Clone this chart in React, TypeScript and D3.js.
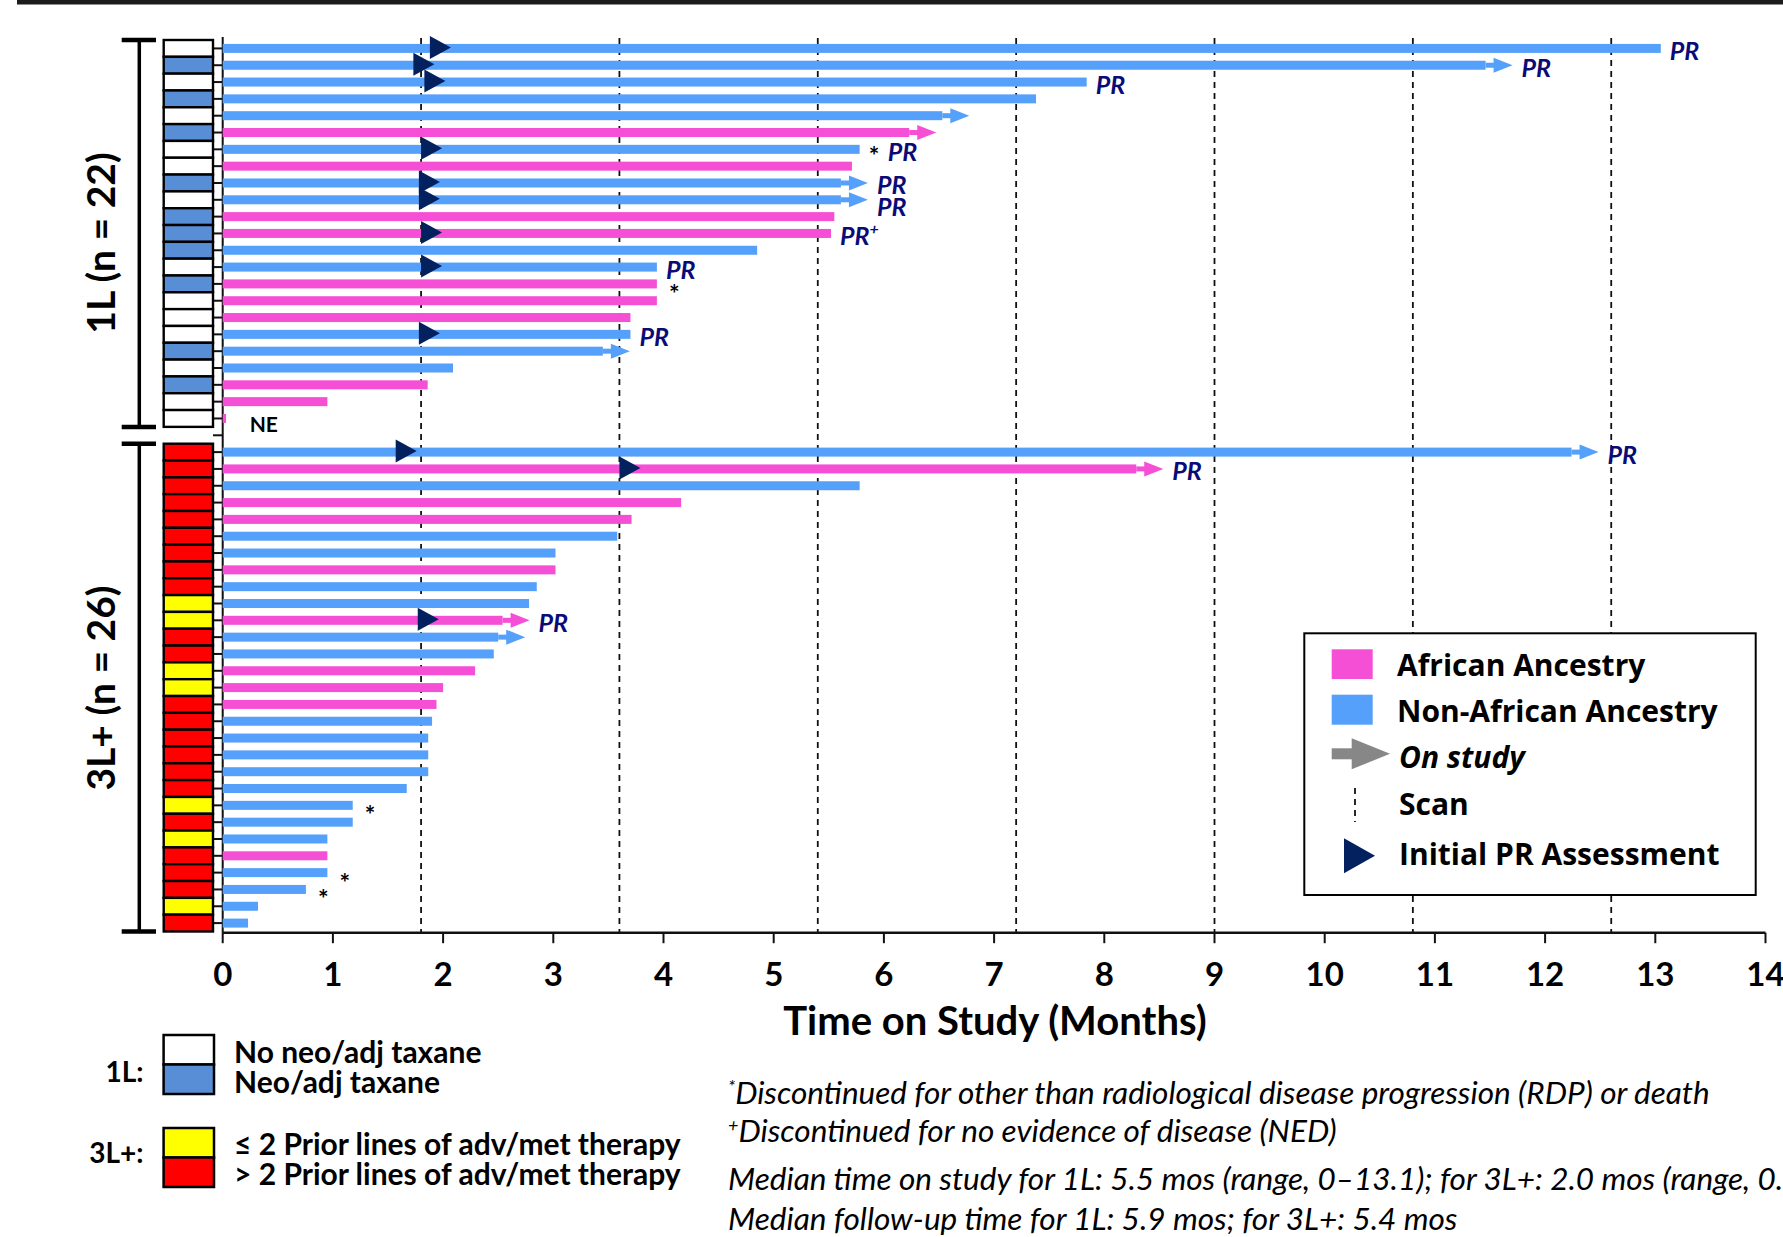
import React, { useRef, useEffect } from 'react';
import * as d3 from 'd3';

// 1L cohort, top to bottom
const firstLineMonths = [13.05, 11.46, 7.84, 7.38, 6.53, 6.23, 5.78, 5.71, 5.61, 5.61, 5.55, 5.52, 4.85, 3.94, 3.94, 3.94, 3.7, 3.7, 3.45, 2.09, 1.86, 0.95, 0.03];
const firstLineAncestry = ['N', 'N', 'N', 'N', 'N', 'A', 'N', 'A', 'N', 'N', 'A', 'A', 'N', 'N', 'A', 'A', 'A', 'N', 'N', 'N', 'A', 'A', 'A'];
const firstLineOnStudy = [0, 1, 0, 0, 1, 1, 0, 0, 1, 1, 0, 0, 0, 0, 0, 0, 0, 0, 1, 0, 0, 0, 0];
const firstLinePrAt = [1.88, 1.73, 1.83, null, null, null, 1.8, null, 1.78, 1.78, null, 1.8, null, 1.8, null, null, null, 1.78, null, null, null, null, null];
const firstLineNotes = ['PR', 'PR', 'PR', '', '', '', '* PR', '', 'PR', 'PR', '', 'PR+', '', 'PR', '*', '', '', 'PR', '', '', '', '', 'NE'];
const firstLineTaxane = [0, 1, 0, 1, 0, 1, 0, 0, 1, 0, 1, 1, 1, 0, 1, 0, 0, 0, 1, 0, 1, 0, 0];

// 3L+ cohort, top to bottom
const thirdLineMonths = [12.24, 8.29, 5.78, 4.16, 3.71, 3.58, 3.02, 3.02, 2.85, 2.78, 2.54, 2.5, 2.46, 2.29, 2.0, 1.94, 1.9, 1.865, 1.865, 1.865, 1.67, 1.18, 1.18, 0.95, 0.95, 0.95, 0.755, 0.32, 0.23];
const thirdLineAncestry = ['N', 'A', 'N', 'A', 'A', 'N', 'N', 'A', 'N', 'N', 'A', 'N', 'N', 'A', 'A', 'A', 'N', 'N', 'N', 'N', 'N', 'N', 'N', 'N', 'A', 'N', 'N', 'N', 'N'];
const thirdLineOnStudy = [1, 1, 0, 0, 0, 0, 0, 0, 0, 0, 1, 1, 0, 0, 0, 0, 0, 0, 0, 0, 0, 0, 0, 0, 0, 0, 0, 0, 0];
const thirdLinePrAt = [1.57, 3.6, null, null, null, null, null, null, null, null, 1.77, null, null, null, null, null, null, null, null, null, null, null, null, null, null, null, null, null, null];
const thirdLineNotes = ['PR', 'PR', '', '', '', '', '', '', '', '', 'PR', '', '', '', '', '', '', '', '', '', '', '*', '', '', '', '*', '*', '', ''];
const thirdLineFewPrior = [0, 0, 0, 0, 0, 0, 0, 0, 0, 1, 1, 0, 0, 1, 1, 0, 0, 0, 0, 0, 0, 1, 0, 1, 0, 0, 0, 1, 0];

const scanMonths = [1.8, 3.6, 5.4, 7.2, 9.0, 10.8, 12.6];
const xTicks = d3.range(0, 15);

const W = 1783;
const H = 1237;
const PINK = '#f54fd6';
const BLUE = '#55a0fb';
const STRIP_BLUE = '#588ed6';
const NAVY = '#03215f';
const PR_BLUE = '#0b0b78';
const SANS = 'Lato, "Open Sans", sans-serif';
const LEG = '"Open Sans", Lato, sans-serif';

const App = () => {
  const svgRef = useRef<SVGSVGElement>(null);

  useEffect(() => {
    const svg = d3.select(svgRef.current);
    svg.selectAll('*').remove();

    const nFirst = firstLineMonths.length;
    const nSlots = nFirst + 1 + thirdLineMonths.length;

    const rows = [
      ...firstLineMonths.map((m, i) => ({
        slot: i, months: m, anc: firstLineAncestry[i], on: firstLineOnStudy[i],
        pr: firstLinePrAt[i], note: firstLineNotes[i], strip: firstLineTaxane[i] ? STRIP_BLUE : '#ffffff',
      })),
      ...thirdLineMonths.map((m, i) => ({
        slot: nFirst + 1 + i, months: m, anc: thirdLineAncestry[i], on: thirdLineOnStudy[i],
        pr: thirdLinePrAt[i], note: thirdLineNotes[i], strip: thirdLineFewPrior[i] ? '#ffff00' : '#ff0000',
      })),
    ];

    const x = d3.scaleLinear().domain([0, 14]).range([222.7, 1765.5]);
    const y = d3.scaleBand<number>().domain(d3.range(nSlots)).range([40, 931.5]);
    const bw = y.bandwidth();
    const cy = (s: number) => (y(s) as number) + bw / 2;
    const axisY = 932.7;

    // top rule
    svg.append('rect').attr('x', 17).attr('y', 0).attr('width', W - 17).attr('height', 4.5).attr('fill', '#1c1c1c');

    // scan lines
    svg.append('g').selectAll('line').data(scanMonths).enter().append('line')
      .attr('x1', d => x(d)).attr('x2', d => x(d))
      .attr('y1', 38).attr('y2', axisY)
      .attr('stroke', '#111').attr('stroke-width', 1.8).attr('stroke-dasharray', '6,5');

    // y axis line + ticks
    svg.append('line').attr('x1', x(0)).attr('x2', x(0)).attr('y1', 37).attr('y2', axisY)
      .attr('stroke', '#111').attr('stroke-width', 2);
    svg.append('g').selectAll('line').data(d3.range(nSlots)).enter().append('line')
      .attr('x1', 213).attr('x2', x(0)).attr('y1', d => cy(d)).attr('y2', d => cy(d))
      .attr('stroke', '#111').attr('stroke-width', 2);

    // x axis
    svg.append('line').attr('x1', x(0)).attr('x2', x(14)).attr('y1', axisY).attr('y2', axisY)
      .attr('stroke', '#111').attr('stroke-width', 2.5);
    const xt = svg.append('g').selectAll('g').data(xTicks).enter().append('g');
    xt.append('line').attr('x1', d => x(d)).attr('x2', d => x(d)).attr('y1', axisY).attr('y2', axisY + 10.5)
      .attr('stroke', '#111').attr('stroke-width', 2);
    xt.append('text').attr('x', d => x(d)).attr('y', 986).attr('text-anchor', 'middle')
      .attr('font-family', SANS).attr('font-weight', 700).attr('font-size', 33).attr('fill', '#000')
      .text(d => d);
    svg.append('text').attr('x', 995).attr('y', 1035).attr('text-anchor', 'middle')
      .attr('font-family', SANS).attr('font-weight', 700).attr('font-size', 40).attr('fill', '#000')
      .text('Time on Study (Months)');

    // strip of boxes
    svg.append('g').selectAll('rect').data(rows).enter().append('rect')
      .attr('x', 163.7).attr('y', d => y(d.slot) as number).attr('width', 49.3).attr('height', bw)
      .attr('fill', d => d.strip).attr('stroke', '#000').attr('stroke-width', 2.4);

    // brackets and group labels
    const groups = [
      { first: 0, last: nFirst - 1, label: '1L (n = 22)', mid: 243 },
      { first: nFirst + 1, last: nSlots - 1, label: '3L+ (n = 26)', mid: 688 },
    ];
    groups.forEach(g => {
      const top = y(g.first) as number;
      const bot = (y(g.last) as number) + bw;
      svg.append('line').attr('x1', 139.3).attr('x2', 139.3).attr('y1', top).attr('y2', bot)
        .attr('stroke', '#000').attr('stroke-width', 3.5);
      [top, bot].forEach(v => {
        svg.append('line').attr('x1', 121.7).attr('x2', 156).attr('y1', v).attr('y2', v)
          .attr('stroke', '#000').attr('stroke-width', 4.5);
      });
      svg.append('text').attr('transform', `translate(115,${g.mid}) rotate(-90)`)
        .attr('text-anchor', 'middle').attr('font-family', SANS).attr('font-weight', 700)
        .attr('font-size', 39).attr('fill', '#000').text(g.label);
    });

    // bars
    const bars = svg.append('g');
    rows.forEach((d, i) => {
      const c = cy(d.slot);
      const col = d.anc === 'A' ? PINK : BLUE;
      const end = x(d.months);
      bars.append('rect').attr('x', x(0)).attr('y', c - 4.5).attr('width', end - x(0)).attr('height', 9).attr('fill', col);
      if (d.on) {
        bars.append('rect').attr('x', end).attr('y', c - 2.5).attr('width', 9).attr('height', 5).attr('fill', col);
        bars.append('polygon')
          .attr('points', `${end + 8},${c - 7.5} ${end + 27},${c} ${end + 8},${c + 7.5}`)
          .attr('fill', col);
      }
      if (d.pr != null) {
        const bx = x(d.pr);
        bars.append('polygon')
          .attr('points', `${bx},${c - 12.5} ${bx + 21},${c - 1} ${bx},${c + 10.5}`)
          .attr('fill', NAVY);
      }
      const tip = d.on ? end + 27 : end;
      let prX = tip + 9;
      if (d.note.startsWith('*')) {
        const alone = d.note === '*';
        bars.append('text').attr('x', tip + (alone ? 12 : 9)).attr('y', c + (alone ? 19 : 16)).attr('font-family', SANS)
          .attr('font-weight', 700).attr('font-size', 25).attr('fill', '#000').text('*');
        prX = tip + 28;
      }
      if (d.note.includes('PR')) {
        // stacked labels at the same end are pushed apart a little, as in the source
        const prev = rows[i - 1];
        const stacked = prev && prev.note === d.note && prev.months === d.months;
        const t = bars.append('text').attr('x', prX).attr('y', c + 11.5 + (stacked ? 5 : 0)).attr('font-family', SANS)
          .attr('font-weight', 700).attr('font-style', 'italic').attr('font-size', 25).attr('fill', PR_BLUE);
        t.append('tspan').text('PR');
        if (d.note.includes('+')) {
          t.append('tspan').attr('dy', -10).attr('font-size', 16).text('+');
        }
      }
      if (d.note === 'NE') {
        bars.append('text').attr('x', 249.7).attr('y', c + 13.4).attr('font-family', SANS)
          .attr('font-weight', 700).attr('font-size', 21).attr('fill', '#000').text('NE');
      }
    });

    // legend box
    const lg = svg.append('g');
    lg.append('rect').attr('x', 1304.3).attr('y', 633.3).attr('width', 451.4).attr('height', 261.7)
      .attr('fill', '#fff').attr('stroke', '#000').attr('stroke-width', 2);
    lg.append('rect').attr('x', 1331.7).attr('y', 649.3).attr('width', 41).attr('height', 29.7).attr('fill', PINK);
    lg.append('rect').attr('x', 1331.7).attr('y', 694.7).attr('width', 41).attr('height', 30).attr('fill', BLUE);
    lg.append('rect').attr('x', 1331.7).attr('y', 748.3).attr('width', 21).attr('height', 11).attr('fill', '#878787');
    lg.append('polygon').attr('points', '1351.7,738.3 1390,753.8 1351.7,769.3').attr('fill', '#878787');
    lg.append('line').attr('x1', 1355).attr('x2', 1355).attr('y1', 788).attr('y2', 822)
      .attr('stroke', '#111').attr('stroke-width', 1.8).attr('stroke-dasharray', '6,5');
    lg.append('polygon').attr('points', '1344,838.3 1375,855.8 1344,873.3').attr('fill', NAVY);
    const legendItems = [
      { t: 'African Ancestry', x: 1397, y: 676, it: false },
      { t: 'Non-African Ancestry', x: 1397, y: 722, it: false },
      { t: 'On study', x: 1399, y: 768, it: true },
      { t: 'Scan', x: 1399, y: 815, it: false },
      { t: 'Initial PR Assessment', x: 1399, y: 865, it: false },
    ];
    lg.selectAll('text.leg').data(legendItems).enter().append('text')
      .attr('x', d => d.x).attr('y', d => d.y).attr('font-family', LEG).attr('font-weight', 700)
      .attr('font-style', d => (d.it ? 'italic' : 'normal')).attr('font-size', 30).attr('fill', '#000')
      .text(d => d.t);

    // strip key
    const keys = [
      { lab: '1L:', labY: 1082, boxes: [
        { y: 1035, fill: '#ffffff', t: 'No neo/adj taxane', ty: 1063 },
        { y: 1064.5, fill: STRIP_BLUE, t: 'Neo/adj taxane', ty: 1093 },
      ] },
      { lab: '3L+:', labY: 1163, boxes: [
        { y: 1128, fill: '#ffff00', t: '\u2264 2 Prior lines of adv/met therapy', ty: 1155 },
        { y: 1157.5, fill: '#ff0000', t: '> 2 Prior lines of adv/met therapy', ty: 1185 },
      ] },
    ];
    keys.forEach(k => {
      svg.append('text').attr('x', 143.5).attr('y', k.labY).attr('text-anchor', 'end')
        .attr('font-family', SANS).attr('font-weight', 700).attr('font-size', 28).attr('fill', '#000').text(k.lab);
      k.boxes.forEach(b => {
        svg.append('rect').attr('x', 163.6).attr('y', b.y).attr('width', 50.4).attr('height', 29.5)
          .attr('fill', b.fill).attr('stroke', '#000').attr('stroke-width', 2.5);
        svg.append('text').attr('x', 234).attr('y', b.ty).attr('font-family', SANS).attr('font-weight', 700)
          .attr('font-size', 30).attr('fill', '#000').text(b.t);
      });
    });

    // footnotes
    const notes = [
      { sup: '*', t: 'Discontinued for other than radiological disease progression (RDP) or death', y: 1104 },
      { sup: '+', t: 'Discontinued for no evidence of disease (NED)', y: 1142 },
      { sup: '', t: 'Median time on study for 1L: 5.5 mos (range, 0\u201313.1); for 3L+: 2.0 mos (range, 0.2', y: 1190 },
      { sup: '', t: 'Median follow-up time for 1L: 5.9 mos; for 3L+: 5.4 mos', y: 1230 },
    ];
    notes.forEach(n => {
      const t = svg.append('text').attr('x', 728).attr('y', n.y).attr('font-family', SANS)
        .attr('font-style', 'italic').attr('font-size', 31.5).attr('fill', '#000');
      if (n.sup) {
        t.append('tspan').attr('font-size', 18).attr('dy', -11).text(n.sup);
        t.append('tspan').attr('dy', 11).text(n.t);
      } else {
        t.append('tspan').text(n.t);
      }
    });
  }, []);

  return (
    <svg
      ref={svgRef}
      width={W}
      height={H}
      style={{ position: 'absolute', left: 0, top: 0, background: '#fff' }}
    />
  );
};

export default App;
